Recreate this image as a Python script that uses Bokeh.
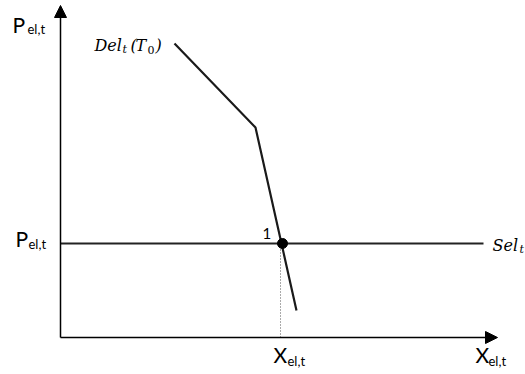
from bokeh.plotting import figure
from bokeh.models import Range1d, Arrow, NormalHead
from bokeh.core.properties import value
from bokeh.embed import file_html
from bokeh.resources import INLINE

# ---- data (diagram units: origin at the axes' corner) ----
demand_x = [114, 195, 236]          # Del_t(T0) kinked demand curve
demand_y = [294, 210, 27]
supply_price = 94                   # Sel_t horizontal supply level
supply_x = [0, 423]
eq_x = [222]                        # equilibrium point "1"
eq_y = [94]
axis_x_max = 437
axis_y_max = 332

# text labels
main_letters = ["P", "P", "X", "X"]
main_lx = [-48, -45, 213, 415]
main_ly = [313, 99, -17, -17]
sub_letters = ["el,t", "el,t", "el,t", "el,t"]
sub_lx = [-33, -32, 227, 428]
sub_ly = [309, 94, -23, -23]

math_text = ["Del", "(", "T", ")", "Sel"]
math_x = [34, 70, 75, 95, 432]
math_y = [292, 292, 292, 292, 92]
math_sub = ["t", "t"]
math_sub_x = [62, 459]
math_sub_y = [288, 88]
digit_sub = ["0"]
digit_sub_x = [87]
digit_sub_y = [288]

p = figure(width=525, height=374, output_backend="svg", toolbar_location=None,
           x_range=Range1d(-60, 465), y_range=Range1d(-37, 337),
           min_border=0, outline_line_color=None)
p.xaxis.visible = False
p.yaxis.visible = False
p.grid.visible = False

# axes with arrow heads
p.add_layout(Arrow(end=NormalHead(size=12, fill_color="black", line_color="black", line_width=1),
                   x_start=0, y_start=0, x_end=0, y_end=axis_y_max,
                   line_color="black", line_width=1.5))
p.add_layout(Arrow(end=NormalHead(size=12, fill_color="black", line_color="black", line_width=1),
                   x_start=0, y_start=0, x_end=axis_x_max, y_end=0,
                   line_color="black", line_width=1.5))

# supply line
p.line(supply_x, [supply_price, supply_price], line_color="#222222", line_width=2)
# dotted drop line
p.line([eq_x[0] - 2, eq_x[0] - 2], [0, supply_price], line_color="#555555",
       line_width=1, line_dash="1 2")
# demand curve
p.line(demand_x, demand_y, line_color="#1a1a1a", line_width=2.2)
# equilibrium point
p.scatter(eq_x, eq_y, size=10, fill_color="black", line_color="black")

# labels
p.text(x=main_lx, y=main_ly, text=main_letters, text_font=value("Lato"),
       text_font_size="21px", text_color="black", text_align="left",
       text_baseline="alphabetic")
p.text(x=sub_lx, y=sub_ly, text=sub_letters, text_font=value("Lato"),
       text_font_size="13px", text_color="black", text_align="left",
       text_baseline="alphabetic")
p.text(x=[202], y=[104], text=["1"], text_font=value("Lato"),
       text_font_size="15px", text_color="black", text_align="left",
       text_baseline="alphabetic")
p.text(x=math_x, y=math_y, text=math_text, text_font=value("DejaVu Serif"),
       text_font_style="italic", text_font_size="16px", text_color="black",
       text_align="left", text_baseline="alphabetic")
p.text(x=math_sub_x, y=math_sub_y, text=math_sub, text_font=value("DejaVu Serif"),
       text_font_style="italic", text_font_size="11px", text_color="black",
       text_align="left", text_baseline="alphabetic")
p.text(x=digit_sub_x, y=digit_sub_y, text=digit_sub, text_font=value("DejaVu Serif"),
       text_font_size="11px", text_color="black",
       text_align="left", text_baseline="alphabetic")

open("out.html", "w").write(file_html(p, INLINE))
